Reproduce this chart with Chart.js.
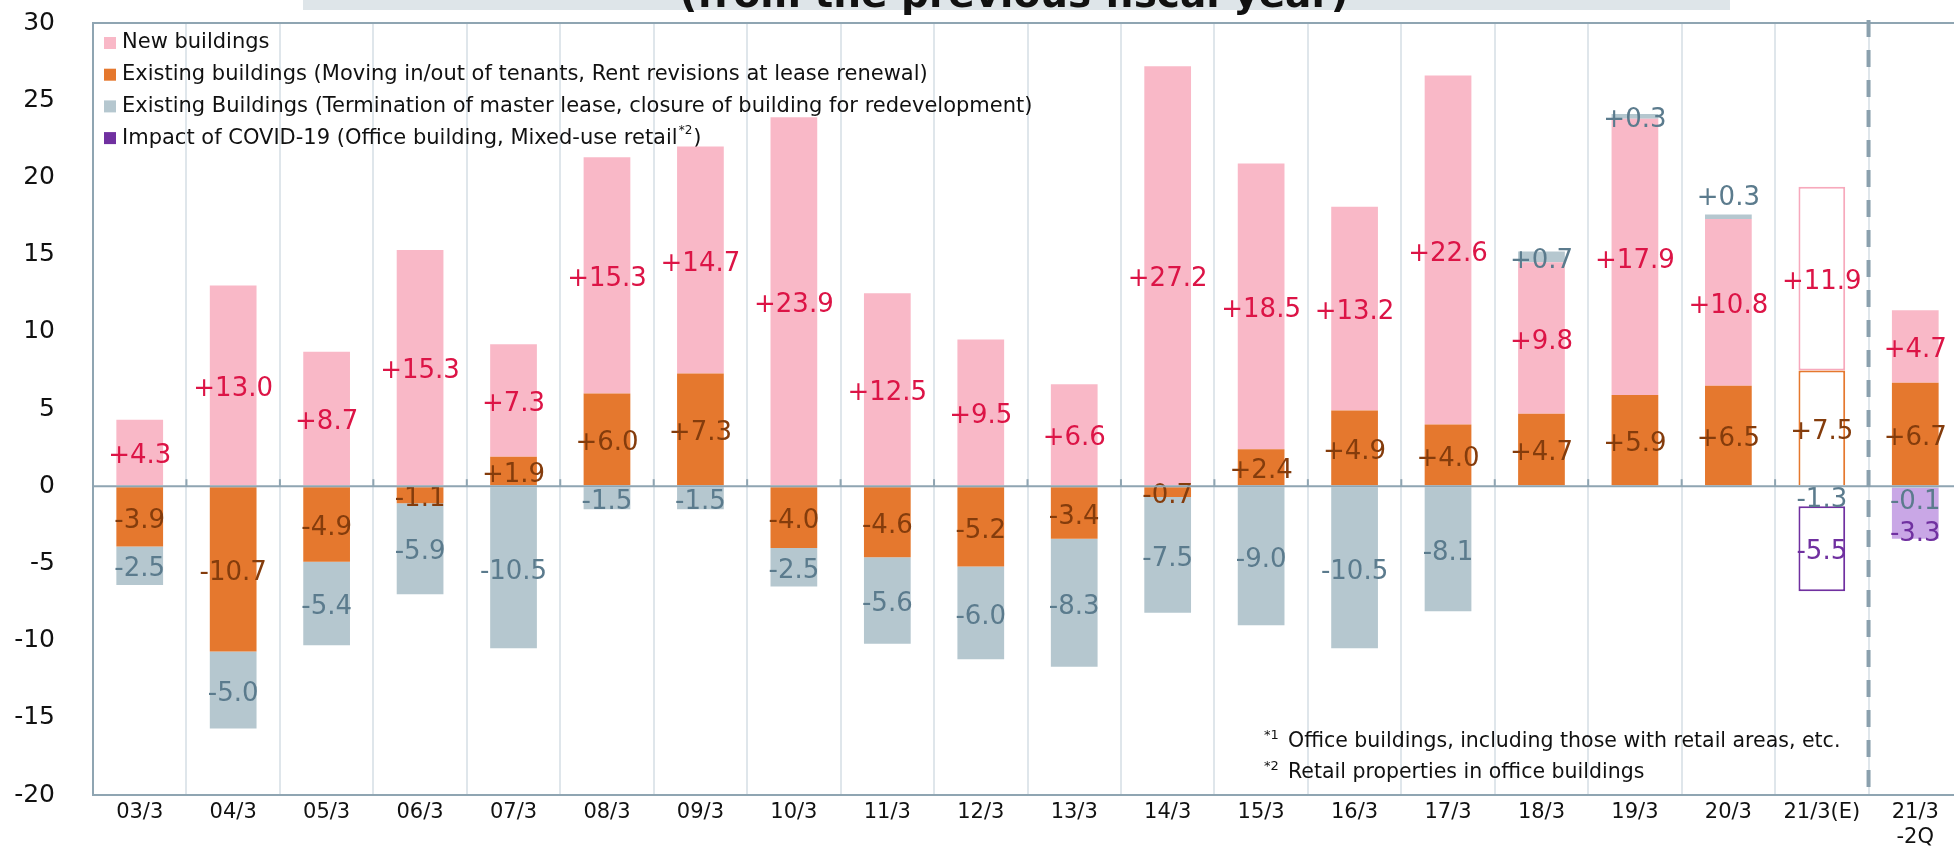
<!DOCTYPE html>
<html>
<head>
<meta charset="utf-8">
<script src="https://cdn.jsdelivr.net/npm/chart.js@4.4.1/dist/chart.umd.min.js"></script>
<style>
  html, body { margin: 0; padding: 0; background: #fff; overflow: hidden; }
  #wrap { width: 1954px; height: 848px; overflow: hidden; }
</style>
</head>
<body>
<div id="wrap"><canvas id="rentChart" width="1962" height="848"></canvas></div>
<script>
const categories = ["03/3", "04/3", "05/3", "06/3", "07/3", "08/3", "09/3", "10/3", "11/3", "12/3",
  "13/3", "14/3", "15/3", "16/3", "17/3", "18/3", "19/3", "20/3", "21/3(E)", ["21/3", "-2Q"]];

const existingMoving = [-3.9, -10.7, -4.9, -1.1, 1.9, 6.0, 7.3, -4.0, -4.6, -5.2,
  -3.4, -0.7, 2.4, 4.9, 4.0, 4.7, 5.9, 6.5, 7.5, 6.7];
const newBuildings = [4.3, 13.0, 8.7, 15.3, 7.3, 15.3, 14.7, 23.9, 12.5, 9.5,
  6.6, 27.2, 18.5, 13.2, 22.6, 9.8, 17.9, 10.8, 11.9, 4.7];
const existingTermination = [-2.5, -5.0, -5.4, -5.9, -10.5, -1.5, -1.5, -2.5, -5.6, -6.0,
  -8.3, -7.5, -9.0, -10.5, -8.1, 0.7, 0.3, 0.3, -1.3, -0.1];
const covidImpact = [null, null, null, null, null, null, null, null, null, null,
  null, null, null, null, null, null, null, null, -5.5, -3.3];

const yMin = -20, yMax = 30, yStep = 5;

const seriesNames = [
  "Existing buildings (Moving in/out of tenants, Rent revisions at lease renewal)",
  "New buildings",
  "Existing Buildings (Termination of master lease, closure of building for redevelopment)",
  "Impact of COVID-19 (Office building, Mixed-use retail"
];

const PINK = '#f9b8c7', ORANGE = '#e5782e', GREY = '#b5c7cf', PURPLE = '#7030a0';
const AXIS = '#8fa5b2';
const estIdx = 18; // 21/3(E) drawn as outlined forecast

Chart.defaults.font.family = '"DejaVu Sans", Verdana, sans-serif';
Chart.defaults.color = '#111';

const labelColors = ['#843c0c', '#dc1446', '#5b7b8d', '#7030a0'];
const labelShift = { '2-17': -23, '2-19': 11, '3-19': 17 };

const valueLabels = {
  id: 'valueLabels',
  afterDatasetsDraw(chart) {
    const ctx = chart.ctx;
    ctx.save();
    ctx.font = '26px "DejaVu Sans"';
    ctx.textAlign = 'center';
    ctx.textBaseline = 'middle';
    chart.data.datasets.forEach((ds, di) => {
      const meta = chart.getDatasetMeta(di);
      meta.data.forEach((bar, i) => {
        const v = ds.data[i];
        if (v === null || v === undefined) return;
        const txt = (v > 0 ? '+' : '') + v.toFixed(1);
        const y = (bar.y + bar.base) / 2 + 4 + (labelShift[di + '-' + i] || 0);
        ctx.fillStyle = labelColors[di];
        ctx.fillText(txt, bar.x, y);
      });
    });
    ctx.restore();
  }
};

const decorations = {
  id: 'decorations',
  beforeDatasetsDraw(chart) {
    const ctx = chart.ctx;
    const area = chart.chartArea;
    // legend inside plot
    const order = [1, 0, 2, 3];
    const boxCol = [ORANGE, PINK, GREY, PURPLE];
    ctx.save();
    ctx.textBaseline = 'middle';
    ctx.textAlign = 'left';
    order.forEach((di, row) => {
      const y = area.top + 20 + row * 31.7;
      ctx.fillStyle = boxCol[di];
      ctx.fillRect(area.left + 11, y - 6, 12, 12);
      ctx.fillStyle = '#111';
      ctx.font = '21px "DejaVu Sans"';
      ctx.fillText(seriesNames[di], area.left + 29, y);
      if (di === 3) {
        let x = area.left + 29 + ctx.measureText(seriesNames[di]).width;
        ctx.font = '12px "DejaVu Sans"';
        ctx.fillText('*2', x + 1, y - 7);
        x += ctx.measureText('*2').width + 2;
        ctx.font = '21px "DejaVu Sans"';
        ctx.fillText(')', x, y);
      }
    });
    ctx.restore();
  },
  afterDatasetsDraw(chart) {
    const ctx = chart.ctx;
    const area = chart.chartArea;
    const xs = chart.scales.x, ys = chart.scales.y;
    const y0 = ys.getPixelForValue(0);
    const half = (xs.getPixelForValue(1) - xs.getPixelForValue(0)) / 2;
    ctx.save();
    // zero line over the bars, with small ticks
    ctx.strokeStyle = AXIS;
    ctx.lineWidth = 2;
    ctx.beginPath();
    ctx.moveTo(area.left, y0);
    ctx.lineTo(area.right, y0);
    ctx.stroke();
    for (let i = 1; i < categories.length; i++) {
      const x = xs.getPixelForValue(i) - half;
      ctx.beginPath();
      ctx.moveTo(x, y0 - 7);
      ctx.lineTo(x, y0);
      ctx.stroke();
    }
    // dashed separator before the latest period
    const xd = xs.getPixelForValue(estIdx) + half;
    ctx.strokeStyle = '#8aa0ad';
    ctx.lineWidth = 4;
    ctx.setLineDash([17, 13]);
    ctx.beginPath();
    ctx.moveTo(xd, area.top - 3);
    ctx.lineTo(xd, area.bottom - 4);
    ctx.stroke();
    ctx.setLineDash([]);

    // footnotes
    ctx.fillStyle = '#111';
    ctx.textBaseline = 'middle';
    ctx.textAlign = 'left';
    const notes = [
      ['*1', 'Office buildings, including those with retail areas, etc.'],
      ['*2', 'Retail properties in office buildings']
    ];
    notes.forEach((n, k) => {
      const y = 742 + k * 31;
      ctx.font = '13px "DejaVu Sans"';
      ctx.fillText(n[0], 1264, y - 6);
      ctx.font = '20.5px "DejaVu Sans"';
      ctx.fillText(n[1], 1288, y);
    });

    // title band, cut off at the top of the picture
    ctx.fillStyle = '#dee5e9';
    ctx.fillRect(303, 0, 1427, 10);
    ctx.fillStyle = '#111';
    ctx.textAlign = 'center';
    ctx.textBaseline = 'alphabetic';
    ctx.font = 'bold 39px "DejaVu Sans"';
    ctx.fillText('(from the previous fiscal year)', 1014, 7);
    ctx.restore();
  }
};

const isEst = (c) => c.dataIndex === estIdx;

new Chart(document.getElementById('rentChart'), {
  type: 'bar',
  data: {
    labels: categories,
    datasets: [
      {
        label: seriesNames[0],
        data: existingMoving,
        backgroundColor: (c) => isEst(c) ? '#ffffff' : ORANGE,
        borderColor: ORANGE,
        borderWidth: (c) => isEst(c) ? 2 : 0
      },
      {
        label: seriesNames[1],
        data: newBuildings,
        backgroundColor: (c) => isEst(c) ? '#ffffff' : PINK,
        borderColor: '#f7a9bc',
        borderWidth: (c) => isEst(c) ? 2 : 0,
        borderSkipped: false
      },
      {
        label: seriesNames[2],
        data: existingTermination,
        backgroundColor: (c) => isEst(c) ? 'rgba(0,0,0,0)' : GREY,
        borderWidth: 0
      },
      {
        label: seriesNames[3],
        data: covidImpact,
        backgroundColor: (c) => isEst(c) ? '#ffffff' : '#c9a7e6',
        borderColor: PURPLE,
        borderWidth: (c) => isEst(c) ? 2 : 0,
        borderSkipped: false
      }
    ]
  },
  options: {
    responsive: false,
    animation: false,
    layout: { padding: { top: 23, left: 0, right: 0, bottom: 0 } },
    plugins: {
      legend: { display: false },
      tooltip: { enabled: false },
      title: { display: false }
    },
    datasets: {
      bar: { categoryPercentage: 0.5, barPercentage: 1, stack: 'all' }
    },
    scales: {
      x: {
        stacked: true,
        afterFit: (s) => { s.height = 53; },
        grid: { offset: true, color: '#dfe6eb', lineWidth: 2, drawTicks: false },
        border: { color: AXIS, width: 2 },
        ticks: { padding: 5, font: { size: 21 }, color: '#111', maxRotation: 0, autoSkip: false }
      },
      y: {
        stacked: true,
        min: yMin,
        max: yMax,
        afterFit: (s) => { s.width = 93; s.paddingTop = 14; s.paddingBottom = 14; },
        grid: {
          drawTicks: false,
          lineWidth: 2,
          color: (c) => (c.tick.value === yMax) ? AXIS : 'rgba(0,0,0,0)'
        },
        border: { color: AXIS, width: 2 },
        ticks: { stepSize: yStep, padding: 38, font: { size: 25 }, color: '#111' }
      }
    }
  },
  plugins: [valueLabels, decorations]
});
</script>
</body>
</html>
